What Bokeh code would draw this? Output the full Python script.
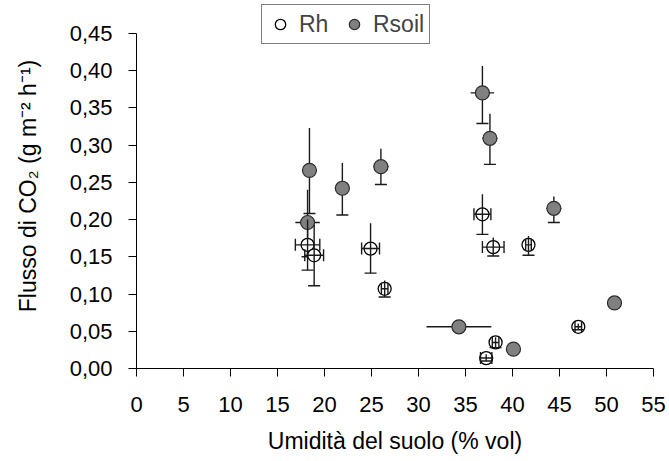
from bokeh.plotting import figure
from bokeh.models import (Range1d, FixedTicker, CustomJSTickFormatter, Whisker, TeeHead,
                          ColumnDataSource, Legend, LegendItem)
from bokeh.embed import file_html
from bokeh.resources import INLINE

# ---- data ----
x_ticks = [0, 5, 10, 15, 20, 25, 30, 35, 40, 45, 50, 55]
y_ticks = [0.0, 0.05, 0.10, 0.15, 0.20, 0.25, 0.30, 0.35, 0.40, 0.45]

# Rh (open circles)
rh_x = [18.2, 18.9, 24.9, 26.4, 36.8, 37.95, 41.7, 38.2, 37.2, 47.0]
rh_y = [0.166, 0.152, 0.161, 0.107, 0.207, 0.163, 0.166, 0.035, 0.014, 0.056]
rh_xerr = [1.3, 1.0, 0.95, 0.35, 0.9, 1.15, 0.3, 0.35, 0.6, 0.35]
rh_ylo = [0.132, 0.111, 0.128, 0.096, 0.180, 0.151, 0.152, 0.028, 0.010, 0.052]
rh_yhi = [0.200, 0.193, 0.195, 0.118, 0.234, 0.176, 0.178, 0.042, 0.019, 0.060]

# Rsoil (grey filled circles)
rs_x = [18.4, 18.2, 21.9, 26.0, 36.8, 37.6, 44.4, 34.3, 40.1, 50.85]
rs_y = [0.266, 0.196, 0.242, 0.271, 0.370, 0.309, 0.215, 0.056, 0.026, 0.088]
rs_xerr = [0.8, 1.3, 0.8, 0.8, 1.25, 0.8, 0.8, 3.45, 0.8, 0.8]
rs_ylo = [0.208, 0.150, 0.206, 0.247, 0.329, 0.274, 0.196, 0.054, 0.024, 0.085]
rs_yhi = [0.323, 0.240, 0.276, 0.295, 0.406, 0.342, 0.231, 0.058, 0.028, 0.091]

FONT = "Liberation Sans"
BAR = "#1a1a1a"

rh_src = ColumnDataSource(dict(
    x=rh_x, y=rh_y,
    xl=[a - e for a, e in zip(rh_x, rh_xerr)], xu=[a + e for a, e in zip(rh_x, rh_xerr)],
    yl=rh_ylo, yu=rh_yhi))
rs_src = ColumnDataSource(dict(
    x=rs_x, y=rs_y,
    xl=[a - e for a, e in zip(rs_x, rs_xerr)], xu=[a + e for a, e in zip(rs_x, rs_xerr)],
    yl=rs_ylo, yu=rs_yhi))

# frame extends a little above 0.45 so the legend can sit there; axis line bounded to 0..0.45
p = figure(width=669, height=461, output_backend="svg", toolbar_location=None,
           x_range=Range1d(0, 55), y_range=Range1d(0, 0.49),
           min_border_left=136, min_border_right=16, min_border_top=3, min_border_bottom=93)
p.xgrid.visible = False
p.ygrid.visible = False
p.outline_line_color = None
p.background_fill_color = "white"
p.border_fill_color = "white"

for ax in (p.xaxis[0], p.yaxis[0]):
    ax.axis_line_color = "black"
    ax.axis_line_width = 1
    ax.major_tick_line_color = "black"
    ax.major_tick_in = 0
    ax.major_tick_out = 8
    ax.minor_tick_line_color = None
    ax.major_label_text_font = FONT
    ax.major_label_text_font_size = "22px"
    ax.major_label_text_color = "black"
    ax.axis_label_text_font = FONT
    ax.axis_label_text_font_size = "23px"
    ax.axis_label_text_font_style = "normal"
    ax.axis_label_text_color = "black"

p.yaxis.bounds = (0, 0.45)
p.xaxis.ticker = FixedTicker(ticks=x_ticks)
p.yaxis.ticker = FixedTicker(ticks=y_ticks)
p.yaxis.formatter = CustomJSTickFormatter(code="return tick.toFixed(2).replace('.', ',');")
p.xaxis.major_label_standoff = 20
p.yaxis.major_label_standoff = 16
p.xaxis.axis_label = "Umidità del suolo (% vol)"
p.yaxis.axis_label = "Flusso di CO\u2082 (g m\u207b\u00b2 h\u207b\u00b9)"
p.xaxis.axis_label_standoff = 13
p.yaxis.axis_label_standoff = 26

# Rh: markers, then bars on top
rh_r = p.scatter("x", "y", source=rh_src, marker="circle", size=13,
                 fill_color="white", line_color="black", line_width=1.3)
p.add_layout(Whisker(source=rh_src, base="x", lower="yl", upper="yu", dimension="height",
                     line_color=BAR, line_width=1.4, level="annotation",
                     lower_head=TeeHead(size=12, line_color=BAR, line_width=1.4), upper_head=None))
p.add_layout(Whisker(source=rh_src, base="y", lower="xl", upper="xu", dimension="width",
                     line_color=BAR, line_width=1.4, level="annotation",
                     lower_head=TeeHead(size=12, line_color=BAR, line_width=1.4),
                     upper_head=TeeHead(size=12, line_color=BAR, line_width=1.4)))

# Rsoil: bars underneath, then markers
p.add_layout(Whisker(source=rs_src, base="x", lower="yl", upper="yu", dimension="height",
                     line_color=BAR, line_width=1.4, level="underlay",
                     lower_head=TeeHead(size=12, line_color=BAR, line_width=1.4), upper_head=None))
p.add_layout(Whisker(source=rs_src, base="y", lower="xl", upper="xu", dimension="width",
                     line_color=BAR, line_width=1.4, level="underlay",
                     lower_head=None, upper_head=None))
rs_r = p.scatter("x", "y", source=rs_src, marker="circle", size=14,
                 fill_color="#808080", line_color="#2a2a2a", line_width=1.2)

legend = Legend(items=[LegendItem(label="Rh", renderers=[rh_r]),
                       LegendItem(label="Rsoil", renderers=[rs_r])],
                orientation="horizontal", location=(125, 324),
                border_line_color="black", border_line_width=1,
                background_fill_color="white", background_fill_alpha=1.0,
                label_text_font=FONT, label_text_font_size="23px",
                glyph_width=26, glyph_height=28, padding=5, spacing=6,
                label_standoff=6, label_width=36, margin=0)
p.add_layout(legend)

open("out.html", "w").write(file_html(p, INLINE))
